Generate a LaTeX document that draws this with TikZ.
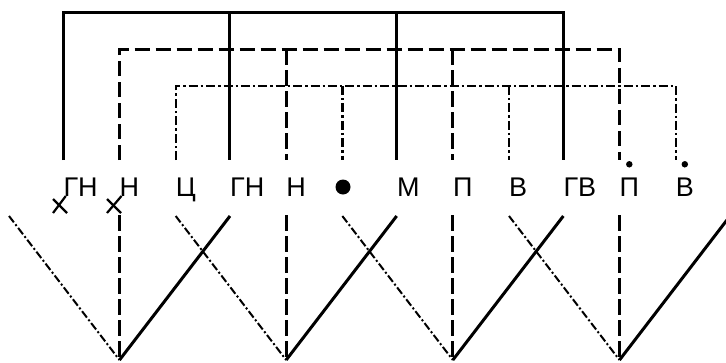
\documentclass[tikz,border=0pt]{standalone}
\usepackage{fontspec}
\setmainfont{Liberation Sans}
\usetikzlibrary{positioning}

\begin{document}
\begin{tikzpicture}[x=1pt,y=-1pt,
  solidln/.style={line width=3pt},
  dashln/.style={line width=3pt, dash pattern=on 15.5pt off 5.5pt},
  dotln/.style={line width=2.4pt, dash pattern=on 9pt off 3pt on 2.4pt off 3pt},
  thinln/.style={line width=2pt, dash pattern=on 8pt off 2.5pt on 2pt off 2.5pt},
  xln/.style={line width=2.2pt},
  lbl/.style={inner sep=0pt, anchor=base west, font=\fontsize{27}{30}\selectfont},
  bigdot/.style={circle, fill, inner sep=0pt, minimum size=15pt},
  smalldot/.style={circle, fill, inner sep=0pt, minimum size=6.5pt}]
\clip (0,0) rectangle (726,362);

% points of the three frames and of the lower part
\foreach \i in {0,...,3} {
  \coordinate (st\i) at ({63.3+166.67*\i},12);
  \coordinate (sb\i) at ({63.3+166.67*\i},160);
  \coordinate (dt\i) at ({119.5+166.67*\i},49);
  \coordinate (db\i) at ({119.5+166.67*\i},160);
  \coordinate (ct\i) at ({175.7+166.67*\i},86);
  \coordinate (cb\i) at ({175.7+166.67*\i},160);
  \coordinate (bt\i) at ({119.5+166.67*\i},215);
  \coordinate (bv\i) at ({119.5+166.67*\i},360);
  \coordinate (ss\i) at ({230+166.67*\i},216);
  \coordinate (cc\i) at ({9+166.67*\i},216);
}

% upper frames
\draw[solidln] (sb0) -- (st0) -- (st3) -- (sb3);
\draw[solidln] (st1) -- (sb1);
\draw[solidln] (st2) -- (sb2);
\draw[dashln] (db0) -- (dt0) -- (dt3) -- (db3);
\draw[dashln] (dt1) -- (db1);
\draw[dashln] (dt2) -- (db2);
\draw[dotln] (cb0) -- (ct0) -- (ct3) -- (cb3);
\draw[dotln] (ct1) -- (cb1);
\draw[dotln] (ct2) -- (cb2);

% labels
\node[lbl] (gn1) at (63.3,196) {ГН};
\node[lbl] (n1) at (119.5,196) {Н};
\node[lbl] (c1) at (175.7,196) {Ц};
\node[lbl] (gn2) at (230,196) {ГН};
\node[lbl] (n2) at (286.2,196) {Н};
\node[bigdot] (pt) at (343,187) {};
\node[lbl] (m1) at (397,196) {М};
\node[lbl] (p1) at (452.8,196) {П};
\node[lbl] (v1) at (509,196) {В};
\node[lbl] (gv1) at (563.3,196) {ГВ};
\node[lbl] (p2) at (619.4,196) {П};
\node[lbl] (v2) at (675.6,196) {В};
\node[smalldot, above=9.5pt of p2] (p2d) {};
\node[smalldot, above=9.5pt of v2] (v2d) {};

% tails with crosses
\draw[xln] ([xshift=2.5pt]gn1.base west) -- (53,213);
\draw[xln] (53,199) -- (67,213);
\draw[xln] ([xshift=2pt]n1.base west) -- (107,213);
\draw[xln] (107,199) -- (121,213);

% lower part
\foreach \i in {0,...,3} {
  \draw[dashln] (bt\i) -- (bv\i);
  \draw[solidln] (bv\i) -- (ss\i);
  \draw[thinln] (cc\i) -- (bv\i);
}
\end{tikzpicture}
\end{document}
